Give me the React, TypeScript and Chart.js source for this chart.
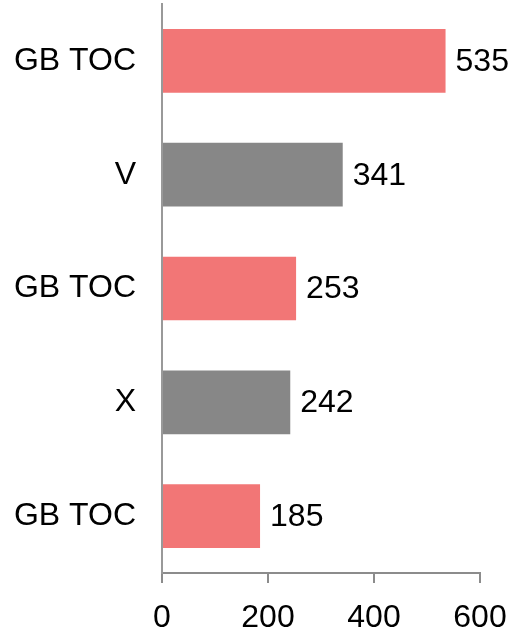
import React, { useEffect, useRef } from "react";
import { Chart, registerables } from "chart.js";

Chart.register(...registerables);

const categories = ["GB TOC", "V", "GB TOC", "X", "GB TOC"];
const values = [535, 341, 253, 242, 185];
const barColors = ["#F27676", "#878787", "#F27676", "#878787", "#F27676"];
const xTicks = [0, 200, 400, 600];

const FONT = "'Liberation Sans', Arial, sans-serif";

const valueLabels = {
  id: "valueLabels",
  afterDatasetsDraw(chart: any) {
    const ctx = chart.ctx;
    const meta = chart.getDatasetMeta(0);
    ctx.save();
    ctx.font = `32px ${FONT}`;
    ctx.fillStyle = "#000";
    ctx.textAlign = "left";
    ctx.textBaseline = "middle";
    meta.data.forEach((el: any, i: number) => {
      ctx.fillText(String(values[i]), el.x + 10, el.y + 1);
    });
    ctx.restore();
  },
};

export default function App() {
  const ref = useRef<HTMLCanvasElement>(null);
  useEffect(() => {
    document.body.style.margin = "0";
    const chart = new Chart(ref.current!, {
      type: "bar",
      data: {
        labels: categories,
        datasets: [
          {
            data: values,
            backgroundColor: barColors,
            barPercentage: 0.56,
            categoryPercentage: 1,
          },
        ],
      },
      options: {
        indexAxis: "y",
        animation: false,
        responsive: false,
        maintainAspectRatio: false,
        layout: { padding: { top: 4, right: 30, left: 0, bottom: 0 } },
        plugins: { legend: { display: false }, tooltip: { enabled: false } },
        scales: {
          x: {
            min: 0,
            max: 600,
            afterBuildTicks: (axis: any) => {
              axis.ticks = xTicks.map((v) => ({ value: v }));
            },
            afterFit: (axis: any) => {
              axis.height = 60;
              axis.paddingLeft = 0;
              axis.paddingRight = 0;
            },
            grid: {
              display: true,
              drawOnChartArea: false,
              drawTicks: true,
              tickLength: 10,
              color: "#8c8c8c",
              lineWidth: 2,
            },
            border: { display: true, color: "#8c8c8c", width: 2 },
            ticks: {
              color: "#000",
              font: { family: FONT, size: 32 },
              padding: 16,
              maxRotation: 0,
            },
          },
          y: {
            afterFit: (axis: any) => {
              axis.width = 162;
              axis.paddingTop = 0;
              axis.paddingBottom = 0;
            },
            grid: { display: true, drawOnChartArea: false, drawTicks: false },
            border: { display: true, color: "#999999", width: 2 },
            ticks: {
              color: "#000",
              font: { family: FONT, size: 32 },
              padding: 26,
            },
          },
        },
      },
      plugins: [valueLabels],
    });
    return () => chart.destroy();
  }, []);
  return (
    <div style={{ position: "absolute", left: 0, top: 0, width: 510, height: 633 }}>
      <canvas ref={ref} width={510} height={633} style={{ width: 510, height: 633 }} />
    </div>
  );
}
